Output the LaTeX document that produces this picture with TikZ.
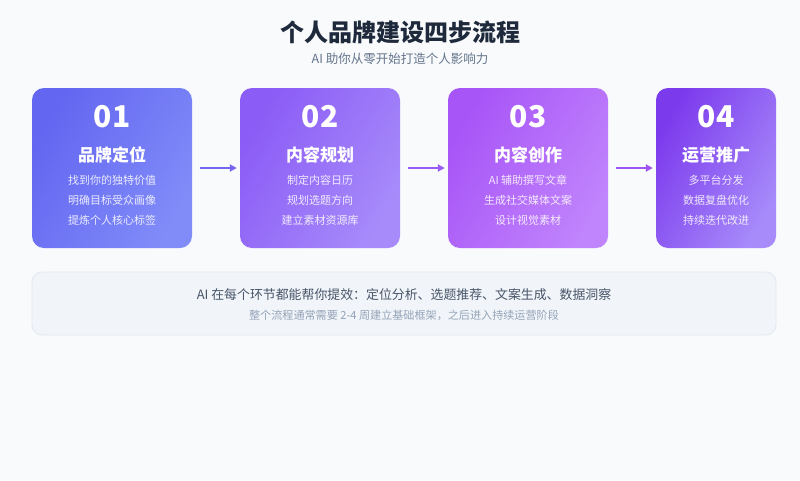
\documentclass[tikz,border=0pt]{standalone}
\usepackage{fontspec}
\setmainfont{Noto Sans CJK SC}
\usetikzlibrary{arrows.meta}
\definecolor{bg}{HTML}{F8FAFC}
\definecolor{ttl}{HTML}{1E293B}
\definecolor{sub}{HTML}{64748B}
\definecolor{aA}{HTML}{6366F1}
\definecolor{aB}{HTML}{818CF8}
\definecolor{bA}{HTML}{8B5CF6}
\definecolor{bB}{HTML}{A78BFA}
\definecolor{cA}{HTML}{A855F7}
\definecolor{cB}{HTML}{C084FC}
\definecolor{dA}{HTML}{7C3AED}
\definecolor{dB}{HTML}{A78BFA}
\definecolor{boxfill}{HTML}{F1F5F9}
\definecolor{boxline}{HTML}{E2E8F0}
\definecolor{note}{HTML}{475569}
\definecolor{note2}{HTML}{94A3B8}
\definecolor{ar1}{HTML}{7566F2}
\definecolor{ar2}{HTML}{9A5CF6}
\definecolor{ar3}{HTML}{9F55F3}
\tikzset{
  card/.style={rounded corners=12pt, minimum height=160pt, inner sep=0pt, draw=none},
  num/.style={text=white, font=\fontsize{30}{34}\selectfont\bfseries, anchor=center},
  ctitle/.style={text=white, font=\fontsize{17}{20}\selectfont\bfseries, anchor=center},
  cline/.style={text=white, text opacity=0.85, font=\fontsize{11}{13}\selectfont, anchor=center},
  flow/.style={line width=2pt, -{Triangle[length=7pt,width=7pt]}, shorten <=8pt, shorten >=3pt}
}
\begin{document}
\begin{tikzpicture}[x=1pt,y=-1pt]
\fill[bg] (0,0) rectangle (800,480);
\useasboundingbox (0,0) rectangle (800,480);
\node[text=ttl, font=\fontsize{24}{28}\selectfont\bfseries] (title) at (400,32) {个人品牌建设四步流程};
\node[text=sub, font=\fontsize{12.5}{15}\selectfont] (subtitle) at (400,59) {AI 助你从零开始打造个人影响力};

\node[card, minimum width=160pt, left color=aA, right color=aB, shading angle=60] (c1) at (112,168) {};
\node[card, minimum width=160pt, left color=bA, right color=bB, shading angle=60] (c2) at (320,168) {};
\node[card, minimum width=160pt, left color=cA, right color=cB, shading angle=60] (c3) at (528,168) {};
\node[card, minimum width=120pt, left color=dA, right color=dB, shading angle=60] (c4) at (716,168) {};

\node[num] (n1) at (112,117) {01};
\node[ctitle] (t1) at (112,155) {品牌定位};
\node[cline] (l11) at (112,180) {找到你的独特价值};
\node[cline] (l12) at (112,200) {明确目标受众画像};
\node[cline] (l13) at (112,220) {提炼个人核心标签};

\node[num] (n2) at (320,117) {02};
\node[ctitle] (t2) at (320,155) {内容规划};
\node[cline] (l21) at (320,180) {制定内容日历};
\node[cline] (l22) at (320,200) {规划选题方向};
\node[cline] (l23) at (320,220) {建立素材资源库};

\node[num] (n3) at (528,117) {03};
\node[ctitle] (t3) at (528,155) {内容创作};
\node[cline] (l31) at (528,180) {AI 辅助撰写文章};
\node[cline] (l32) at (528,200) {生成社交媒体文案};
\node[cline] (l33) at (528,220) {设计视觉素材};

\node[num] (n4) at (716,117) {04};
\node[ctitle] (t4) at (716,155) {运营推广};
\node[cline] (l41) at (716,180) {多平台分发};
\node[cline] (l42) at (716,200) {数据复盘优化};
\node[cline] (l43) at (716,220) {持续迭代改进};

\draw[flow, ar1] (c1) -- (c2);
\draw[flow, ar2] (c2) -- (c3);
\draw[flow, ar3] (c3) -- (c4);

\node[rounded corners=10pt, fill=boxfill, draw=boxline, line width=0.8pt, minimum width=744pt, minimum height=63pt] (box) at (404,303.5) {};
\node[text=note, font=\fontsize{12.9}{15}\selectfont] (b1) at (404,295) {AI 在每个环节都能帮你提效：定位分析、选题推荐、文案生成、数据洞察};
\node[text=note2, font=\fontsize{11.1}{13}\selectfont] (b2) at (404,315) {整个流程通常需要 2-4 周建立基础框架，之后进入持续运营阶段};
\end{tikzpicture}
\end{document}
